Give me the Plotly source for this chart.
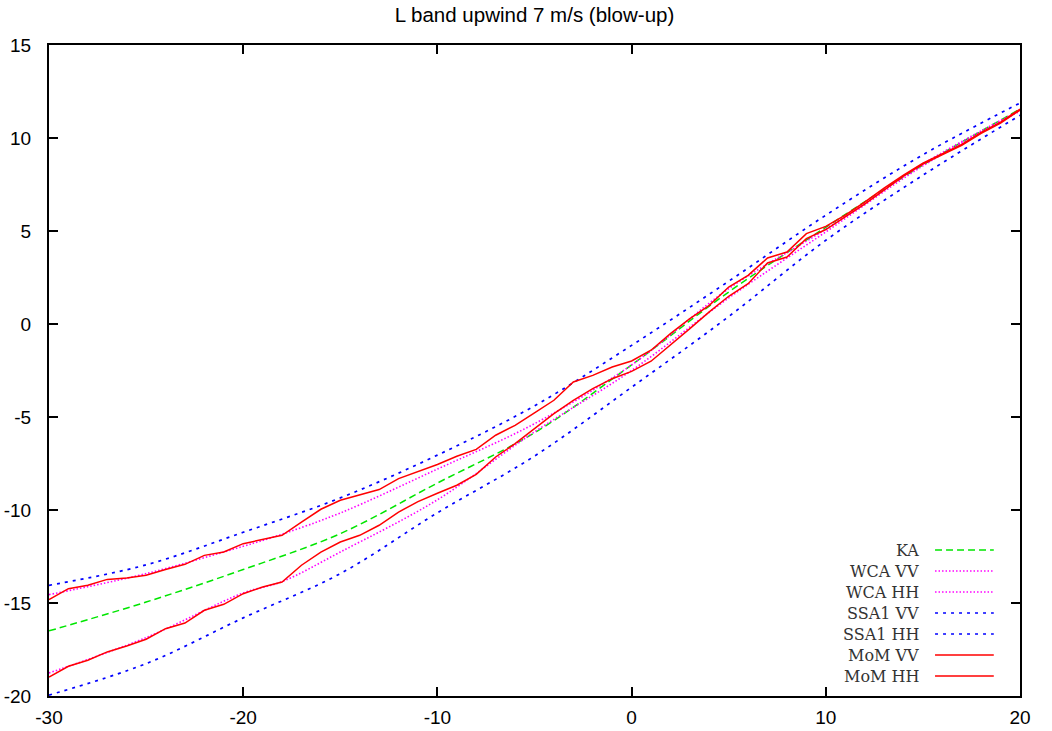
import plotly.graph_objects as go

# ---------------- data ----------------
x_mom = list(range(-30, 21))
mom_vv = [-14.82, -14.23, -14.05, -13.73, -13.66, -13.51, -13.2, -12.92, -12.44, -12.26,
          -11.81, -11.58, -11.36, -10.65, -9.96, -9.48, -9.21, -8.9, -8.31, -7.95,
          -7.55, -7.11, -6.74, -5.98, -5.45, -4.78, -4.1, -3.12, -2.76, -2.31,
          -1.99, -1.41, -0.52, 0.29, 1.0, 1.99, 2.62, 3.55, 3.87, 4.86,
          5.25, 5.85, 6.55, 7.3, 8.0, 8.65, 9.15, 9.65, 10.3, 10.85, 11.55]
mom_hh = [-18.98, -18.4, -18.08, -17.63, -17.31, -16.95, -16.38, -16.08, -15.39, -15.07,
          -14.5, -14.14, -13.87, -12.97, -12.26, -11.72, -11.36, -10.82, -10.11, -9.55,
          -9.1, -8.67, -8.08, -7.15, -6.43, -5.62, -4.82, -4.1, -3.47, -2.94,
          -2.55, -2.0, -1.15, -0.25, 0.65, 1.49, 2.17, 3.28, 3.6, 4.59,
          5.08, 5.75, 6.45, 7.2, 7.95, 8.6, 9.1, 9.6, 10.25, 10.8, 11.5]

x_smooth = [-30, -25, -20, -15, -10, -5, 0, 5, 10, 15, 20]
ka = [-16.5, -14.95, -13.2, -11.27, -8.55, -5.85, -2.2, 1.72, 5.2, 8.55, 11.55]
ssa1_vv = [-14.05, -12.95, -11.2, -9.35, -7.05, -4.4, -1.15, 2.3, 5.85, 9.1, 11.88]
ssa1_hh = [-19.95, -18.26, -15.8, -13.42, -10.15, -7.1, -3.4, 0.4, 4.5, 8.0, 11.22]

x_wca = [-30, -25, -20, -18, -15, -10, -5, 0, 5, 10, 15, 20]
wca_vv = [-14.55, -13.42, -11.95, -11.3, -10.16, -7.8, -5.36, -2.2, 1.9, 5.1, 8.6, 11.5]
wca_hh = [-18.76, -16.86, -14.46, -13.85, -12.26, -9.45, -5.8, -2.5, 1.4, 4.95, 8.5, 11.45]

title = "L band upwind 7 m/s (blow-up)"
x_ticks = [-30, -20, -10, 0, 10, 20]
x_ticktext = ["-30", "-20", "-10", "0", "10", "20"]
y_ticks = [-20, -15, -10, -5, 0, 5, 10, 15]
y_ticktext = ["-20", "-15", "-10", "-5", "0", "5", "10", "15"]

GREEN = "rgb(0,230,0)"
MAGENTA = "rgb(255,0,255)"
BLUE = "rgb(0,0,255)"
RED = "rgb(255,0,0)"

series = [
    ("KA", x_smooth, ka, GREEN, "7px,4px", 1.5, "spline"),
    ("WCA VV", x_wca, wca_vv, MAGENTA, "1.5px,2px", 1.6, "spline"),
    ("WCA HH", x_wca, wca_hh, MAGENTA, "1.5px,2px", 1.6, "spline"),
    ("SSA1 VV", x_smooth, ssa1_vv, BLUE, "3px,5px", 1.7, "spline"),
    ("SSA1 HH", x_smooth, ssa1_hh, BLUE, "3px,5px", 1.7, "spline"),
    ("MoM VV", x_mom, mom_vv, RED, "solid", 1.5, "linear"),
    ("MoM HH", x_mom, mom_hh, RED, "solid", 1.5, "linear"),
]

fig = go.Figure()
for name, xs, ys, col, dash, w, shape in series:
    fig.add_trace(go.Scatter(x=xs, y=ys, mode="lines", name=name,
                             line=dict(color=col, dash=dash, width=w, shape=shape),
                             showlegend=False))

# custom gnuplot-style legend (text left, sample right)
PH = 651.0
row_step = 21 / PH
y0 = 1 - (550 - 45) / PH
for i, (name, xs, ys, col, dash, w, shape) in enumerate(series):
    yy = y0 - i * row_step
    fig.add_annotation(x=0.898, y=yy, xref="paper", yref="paper", text=name,
                       showarrow=False, xanchor="right", yanchor="middle",
                       font=dict(family="DejaVu Serif, Liberation Serif, serif",
                                 size=16, color="#333333"))
    fig.add_shape(type="line", xref="paper", yref="paper",
                  x0=0.9125, x1=0.973, y0=yy, y1=yy,
                  line=dict(color=col, dash=dash, width=w))

axis_common = dict(showgrid=False, zeroline=False, showline=True, linecolor="black",
                   linewidth=2, mirror="ticks", ticks="inside", ticklen=9,
                   tickwidth=1.5, tickcolor="black", automargin=False,
                   tickfont=dict(family="Liberation Sans, Arial, sans-serif",
                                 size=19, color="black"))

fig.update_xaxes(range=[-30, 20], tickvals=x_ticks, ticktext=x_ticktext,
                 ticklabelstandoff=3, **axis_common)
fig.update_yaxes(range=[-20, 15], tickvals=y_ticks, ticktext=y_ticktext,
                 ticklabelstandoff=12, **axis_common)

fig.update_layout(
    width=1052, height=731,
    margin=dict(l=49, r=32, t=45, b=35, autoexpand=False),
    paper_bgcolor="white", plot_bgcolor="white",
    title=dict(text=title, x=0.5, xanchor="center", xref="paper",
               y=1 - 15 / 731, yref="container", yanchor="middle", automargin=False,
               font=dict(family="Liberation Sans, Arial, sans-serif", size=20.5, color="black")),
)

fig.write_html("out.html", config={"displayModeBar": False},
               post_script="document.body.style.margin='0';document.body.style.overflow='hidden';")
